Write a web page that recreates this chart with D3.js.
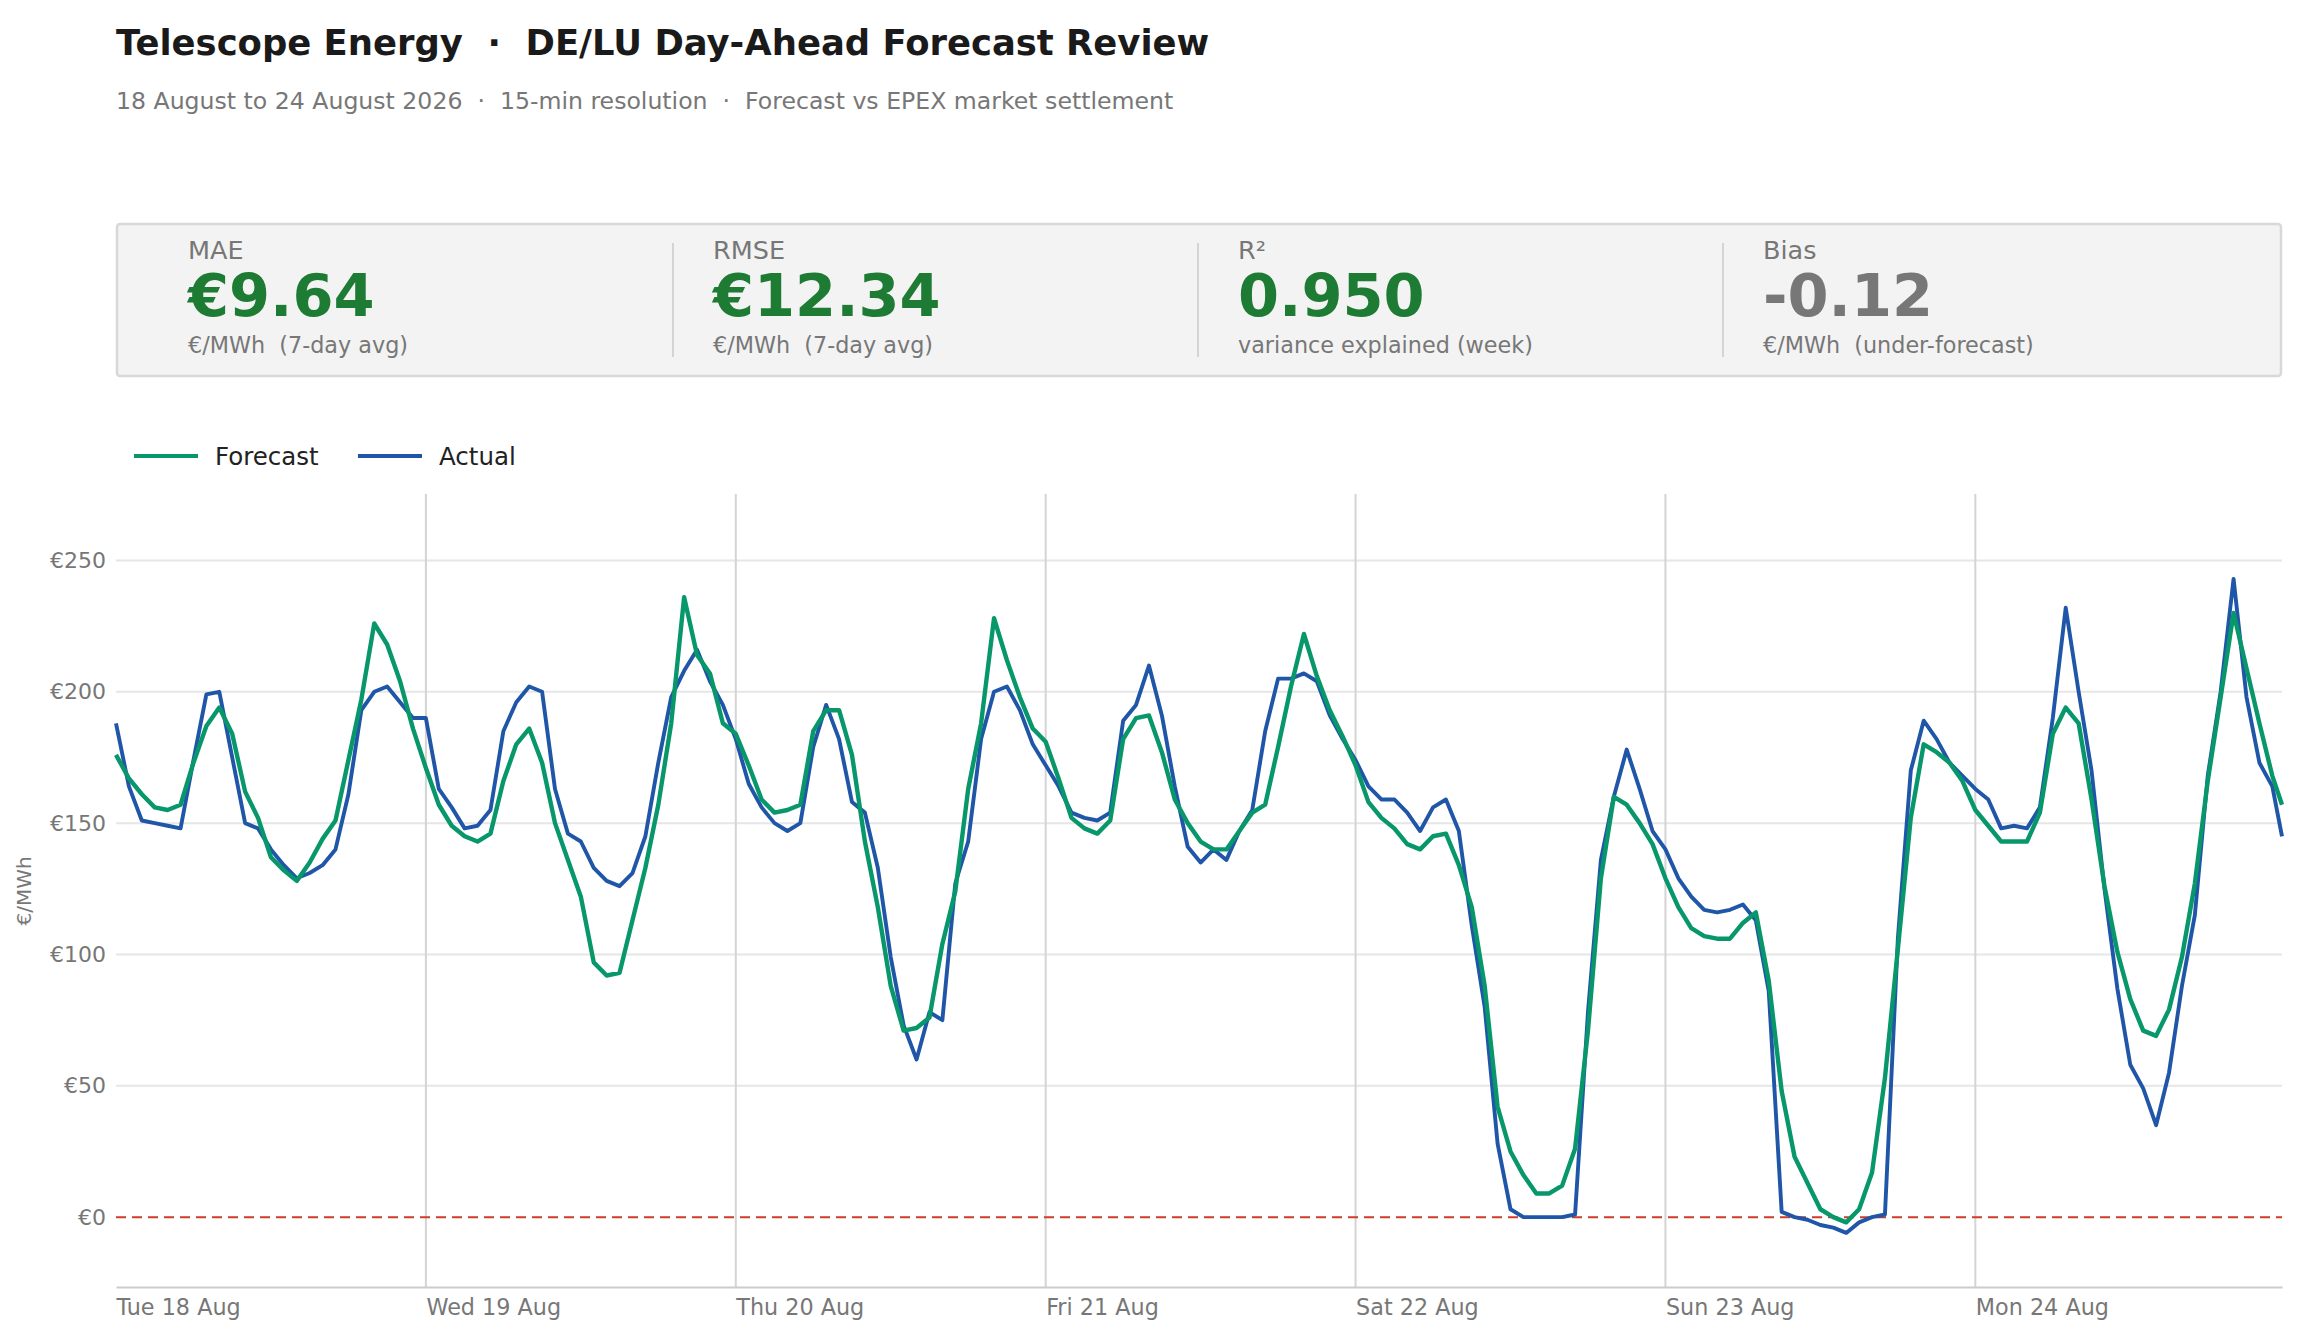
<!DOCTYPE html>
<html>
<head>
<meta charset="utf-8">
<script src="https://cdn.jsdelivr.net/npm/d3@7/dist/d3.min.js"></script>
<style>
  body { margin: 0; background: #fff; font-family: "DejaVu Sans", sans-serif; }
  text { white-space: pre; }
</style>
</head>
<body>
<svg id="chart"></svg>
<script>
// ---- data (hourly readings, €/MWh) ----
const dayLabels = ["Tue 18 Aug", "Wed 19 Aug", "Thu 20 Aug", "Fri 21 Aug", "Sat 22 Aug", "Sun 23 Aug", "Mon 24 Aug"];

const forecastTue = [176,167,161,156,155,157,173,187,194,184,162,152,137,132,128,135,144,151,174,197,226,218,204,186];
const forecastWed = [171,157,149,145,143,146,166,180,186,173,150,136,122,97,92,93,113,133,157,188,236,214,207,188];
const forecastThu = [184,172,159,154,155,157,185,193,193,176,143,118,88,71,72,76,104,124,163,188,228,212,198,186];
const forecastFri = [181,167,152,148,146,151,182,190,191,177,159,150,143,140,140,147,154,157,179,202,222,206,193,183];
const forecastSat = [172,158,152,148,142,140,145,146,134,118,88,42,25,16,9,9,12,26,71,129,160,157,150,142];
const forecastSun = [129,118,110,107,106,106,112,116,90,48,23,13,3,0,-2,3,17,53,102,152,180,177,173,166];
const forecastMon = [155,149,143,143,143,154,184,194,188,159,126,101,83,71,69,79,99,127,166,198,230,209,188,168];
const forecastClose = 157; // Mon 23:45

const actualTue = [188,164,151,150,149,148,174,199,200,175,150,148,140,134,129,131,134,140,161,193,200,202,196,190];
const actualWed = [190,163,156,148,149,155,185,196,202,200,163,146,143,133,128,126,131,145,173,198,208,216,204,195];
const actualThu = [182,165,156,150,147,150,179,195,182,158,154,133,99,73,60,78,75,127,143,182,200,202,193,180];
const actualFri = [172,164,154,152,151,154,189,195,210,191,164,141,135,140,136,147,155,185,205,205,207,204,191,182];
const actualSat = [174,164,159,159,154,147,156,159,147,111,80,28,3,0,0,0,0,1,78,136,160,178,163,147];
const actualSun = [140,129,122,117,116,117,119,113,86,2,0,-1,-3,-4,-6,-2,0,1,106,170,189,182,173,168];
const actualMon = [163,159,148,149,148,156,190,232,200,170,125,87,58,49,35,55,88,115,168,200,243,198,173,164];
const actualClose = 145; // Mon 23:45

const yTicks = [0, 50, 100, 150, 200, 250];

const kpiLabels = ["MAE", "RMSE", "R²", "Bias"];
const kpiValues = ["€9.64", "€12.34", "0.950", "-0.12"];
const kpiNotes = ["€/MWh  (7-day avg)", "€/MWh  (7-day avg)", "variance explained (week)", "€/MWh  (under-forecast)"];
const kpiGood = [true, true, true, false];

// ---- layout ----
const W = 2299, H = 1333;
const plotLeft = 116, plotRight = 2282, plotTop = 494, plotBottom = 1287;
const GREEN = "#07976a", BLUE = "#1f56a8", KPI_GREEN = "#1e7b34", GREY = "#777777";

const svg = d3.select("#chart").attr("width", W).attr("height", H);

// title block
svg.append("text")
  .attr("x", 116).attr("y", 55)
  .attr("font-size", 35.4).attr("font-weight", "bold").attr("fill", "#1a1a1a")
  .text("Telescope Energy  ·  DE/LU Day-Ahead Forecast Review");
svg.append("text")
  .attr("x", 116).attr("y", 109)
  .attr("font-size", 23.6).attr("fill", GREY)
  .text("18 August to 24 August 2026  ·  15-min resolution  ·  Forecast vs EPEX market settlement");

// KPI panel
const panel = svg.append("g");
panel.append("rect")
  .attr("x", 117).attr("y", 224).attr("width", 2164).attr("height", 152)
  .attr("rx", 3)
  .attr("fill", "#f3f3f3").attr("stroke", "#d8d8d8").attr("stroke-width", 2.5);

const colStep = 525;
kpiLabels.forEach((lab, i) => {
  const x0 = 188 + i * colStep;
  panel.append("text").attr("x", x0).attr("y", 259)
    .attr("font-size", 25.5).attr("fill", GREY).text(lab);
  panel.append("text").attr("x", x0).attr("y", 316)
    .attr("font-size", 59).attr("font-weight", "bold")
    .attr("fill", kpiGood[i] ? KPI_GREEN : GREY).text(kpiValues[i]);
  panel.append("text").attr("x", x0).attr("y", 353)
    .attr("font-size", 22.3).attr("fill", GREY).text(kpiNotes[i]);
  if (i > 0) {
    panel.append("line")
      .attr("x1", x0 - 40).attr("x2", x0 - 40).attr("y1", 243).attr("y2", 357)
      .attr("stroke", "#d4d4d4").attr("stroke-width", 2);
  }
});

// legend
const legend = svg.append("g").attr("transform", "translate(134,456)");
[["Forecast", GREEN], ["Actual", BLUE]].forEach(([name, col], i) => {
  const g = legend.append("g").attr("transform", `translate(${i * 224},0)`);
  g.append("line").attr("x1", 0).attr("x2", 64).attr("y1", 0).attr("y2", 0)
    .attr("stroke", col).attr("stroke-width", 4);
  g.append("text").attr("x", 81).attr("y", 8.5)
    .attr("font-size", 24.5).attr("fill", "#222").text(name);
});

// ---- scales ----
const forecast = [].concat(forecastTue, forecastWed, forecastThu, forecastFri, forecastSat, forecastSun, forecastMon, [forecastClose]);
const actual = [].concat(actualTue, actualWed, actualThu, actualFri, actualSat, actualSun, actualMon, [actualClose]);
const hours = d3.range(168).concat([167.75]);

const x = d3.scaleLinear().domain([0, 167.75]).range([plotLeft, plotRight]);
const y = d3.scaleLinear().domain([-26.6, 275.3]).range([plotBottom, plotTop]);

// grid
const grid = svg.append("g");
grid.selectAll("line.h")
  .data(yTicks.filter(d => d !== 0))
  .enter().append("line")
  .attr("x1", plotLeft).attr("x2", plotRight)
  .attr("y1", d => y(d)).attr("y2", d => y(d))
  .attr("stroke", "#e6e6e6").attr("stroke-width", 2);

grid.selectAll("line.v")
  .data(d3.range(1, dayLabels.length))
  .enter().append("line")
  .attr("x1", d => x(d * 24)).attr("x2", d => x(d * 24))
  .attr("y1", plotTop).attr("y2", plotBottom)
  .attr("stroke", "#d4d4d4").attr("stroke-width", 2);

// axes
const yAxis = svg.append("g")
  .attr("transform", `translate(${plotLeft},0)`)
  .call(d3.axisLeft(y).tickValues(yTicks).tickSize(0).tickPadding(10).tickFormat(d => "€" + d));
yAxis.select(".domain").remove();
yAxis.selectAll("text").attr("font-size", 22).attr("fill", GREY).attr("font-family", "DejaVu Sans");

const xAxis = svg.append("g")
  .attr("transform", `translate(0,${plotBottom})`)
  .call(d3.axisBottom(x).tickValues(d3.range(0, 168, 24)).tickSize(0).tickPadding(12)
    .tickFormat((d, i) => dayLabels[i]));
xAxis.select(".domain").attr("stroke", "#cccccc").attr("stroke-width", 2);
xAxis.selectAll("text").attr("font-size", 22.3).attr("fill", GREY)
  .attr("font-family", "DejaVu Sans").attr("text-anchor", "start");

svg.append("text")
  .attr("transform", `translate(31,891) rotate(-90)`)
  .attr("text-anchor", "middle")
  .attr("font-size", 20).attr("fill", GREY)
  .text("€/MWh");

// zero line
svg.append("line")
  .attr("x1", plotLeft).attr("x2", plotRight)
  .attr("y1", y(0)).attr("y2", y(0))
  .attr("stroke", "#d23a2a").attr("stroke-width", 2)
  .attr("stroke-dasharray", "10,6");

// series
const line = d3.line()
  .x((d, i) => x(hours[i]))
  .y(d => y(d));

svg.append("path")
  .datum(actual)
  .attr("d", line)
  .attr("fill", "none").attr("stroke", BLUE)
  .attr("stroke-width", 3.9).attr("stroke-linejoin", "round");

svg.append("path")
  .datum(forecast)
  .attr("d", line)
  .attr("fill", "none").attr("stroke", GREEN)
  .attr("stroke-width", 4.4).attr("stroke-linejoin", "round");
</script>
</body>
</html>
